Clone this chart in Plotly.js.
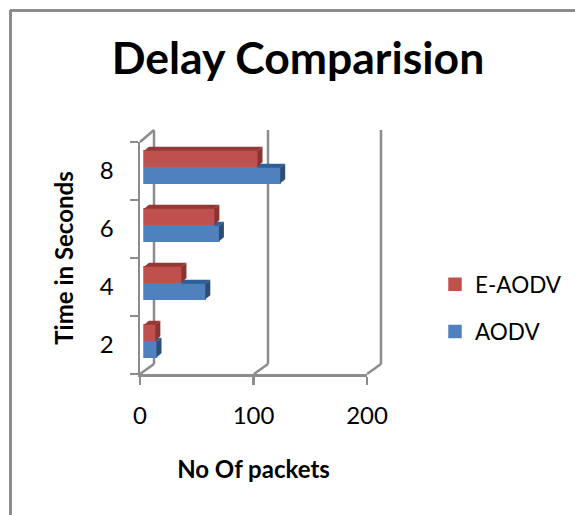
<!DOCTYPE html>
<html><head><meta charset="utf-8">
<script src="https://cdn.plot.ly/plotly-3.0.1.min.js"></script>
<style>html,body{margin:0;padding:0;background:#fff}</style></head>
<body><div id="chart" style="width:575px;height:515px"></div>
<script>
const categories = ["2","4","6","8"];
const aodv = [11,54,66,120];
const eaodv = [10,33,62,100];
const xTicks = [0,100,200];
const RED='#C0504D', REDTOP='#953735', REDSIDE='#8A3331';
const BLUE='#4F81BD', BLUETOP='#2F5F94', BLUESIDE='#2C4D75';
const GRID='#8C8C8C';
const W=575,H=515,L=140,T=142,PW=227,PH=232;
const pos=categories.map((c,i)=>i);
const xPerPx=200/PW, yPerPx=4/PH;
const baseX=4*xPerPx, depX=5*xPerPx, depY=4*yPerPx;
const barH=15.5*yPerPx, blueOff=-12.2*yPerPx, redOff=4.8*yPerPx;

function poly(pts){return {x:pts.map(p=>p[0]).concat([pts[0][0],null]),y:pts.map(p=>p[1]).concat([pts[0][1],null])};}
function faces(polys,color){
  const xs=[],ys=[];
  polys.forEach(p=>{const q=poly(p);xs.push(...q.x);ys.push(...q.y);});
  return {type:'scatter',mode:'lines',x:xs,y:ys,fill:'toself',fillcolor:color,line:{width:0,color:color},
          showlegend:false,hoverinfo:'skip',cliponaxis:false};
}
function bar(name,vals,off,color){
  return {type:'bar',orientation:'h',name:name,x:vals,y:pos,base:baseX,width:barH,offset:off,
    marker:{color:color,line:{width:1.5,color:color}},legendgroup:name};
}
const blueTops=pos.map((c,i)=>{const y=c+blueOff+barH,a=baseX+eaodv[i],b=baseX+aodv[i];
  return [[a,y],[b,y],[b+depX,y+depY],[a,y+depY]];});
const blueSides=pos.map((c,i)=>{const y0=c+blueOff,y1=y0+barH,b=baseX+aodv[i];
  return [[b,y0],[b,y1],[b+depX,y1+depY],[b+depX,y0+depY]];});
const redTops=pos.map((c,i)=>{const y=c+redOff+barH,b=baseX+eaodv[i];
  return [[baseX,y],[b,y],[b+depX,y+depY],[baseX+depX,y+depY]];});
const redSides=pos.map((c,i)=>{const y0=c+redOff,y1=y0+barH,b=baseX+eaodv[i];
  return [[b,y0],[b,y1],[b+depX,y1+depY],[b+depX,y0+depY]];});

const data=[
  bar('E-AODV',eaodv,redOff,RED),
  bar('AODV',aodv,blueOff,BLUE),
  faces(blueTops,BLUETOP),faces(blueSides,BLUESIDE),
  faces(redTops,REDTOP),faces(redSides,REDSIDE)
];
function seg(x0,y0,x1,y1,w,c){
  return {type:'line',xref:'paper',yref:'paper',layer:'below',
    x0:(x0-L)/PW,x1:(x1-L)/PW,y0:(T+PH-y0)/PH,y1:(T+PH-y1)/PH,line:{color:c||GRID,width:w||2.5}};
}
const shapes=[
  seg(10,10.5,575,10.5,3), seg(10.5,10,10.5,515,3),
  seg(140,374,154,364), seg(154,364,154,130), seg(140,142,154,130),
  seg(254,374,268,364), seg(268,364,268,130),
  seg(367,374,381,364), seg(381,364,381,130)
];
const layout={
  width:W,height:H,paper_bgcolor:'#fff',plot_bgcolor:'rgba(0,0,0,0)',showlegend:true,
  barmode:'overlay',
  font:{family:'Lato, Carlito, sans-serif',color:'#000',size:24},
  margin:{l:L,t:T,r:W-L-PW,b:H-T-PH,pad:0,autoexpand:false},
  title:{text:'<b>Delay Comparision</b>',font:{size:44.5,family:'Lato',color:'#000'},x:298/W,xanchor:'center',y:1-58/H,yanchor:'middle'},
  xaxis:{range:[0,200],tickvals:xTicks,ticks:'outside',ticklen:8,tickwidth:2.5,tickcolor:GRID,showline:true,linecolor:GRID,linewidth:2.5,
    showgrid:false,zeroline:false,ticklabelstandoff:11,tickfont:{size:24},
    title:{text:'<b>No Of packets</b>',font:{size:24},standoff:33}},
  yaxis:{range:[-0.5,3.5],tickvals:pos,ticktext:categories,ticks:'',showline:true,linecolor:GRID,linewidth:2.5,
    showgrid:false,zeroline:false,ticklabelstandoff:19,tickfont:{size:24},
    minor:{ticks:'outside',ticklen:8,tickwidth:2.5,tickcolor:GRID,tickvals:[-0.5,0.5,1.5,2.5,3.5],showgrid:false},
    title:{text:'<b>Time in Seconds</b>',font:{size:24},standoff:20}},
  legend:{xref:'container',yref:'container',x:435/W,xanchor:'left',y:1-263/H,yanchor:'top',tracegroupgap:15,font:{size:22.5},bgcolor:'rgba(0,0,0,0)'},
  shapes:shapes
};
Plotly.newPlot('chart',data,layout,{displayModeBar:false,staticPlot:true});
</script></body></html>
